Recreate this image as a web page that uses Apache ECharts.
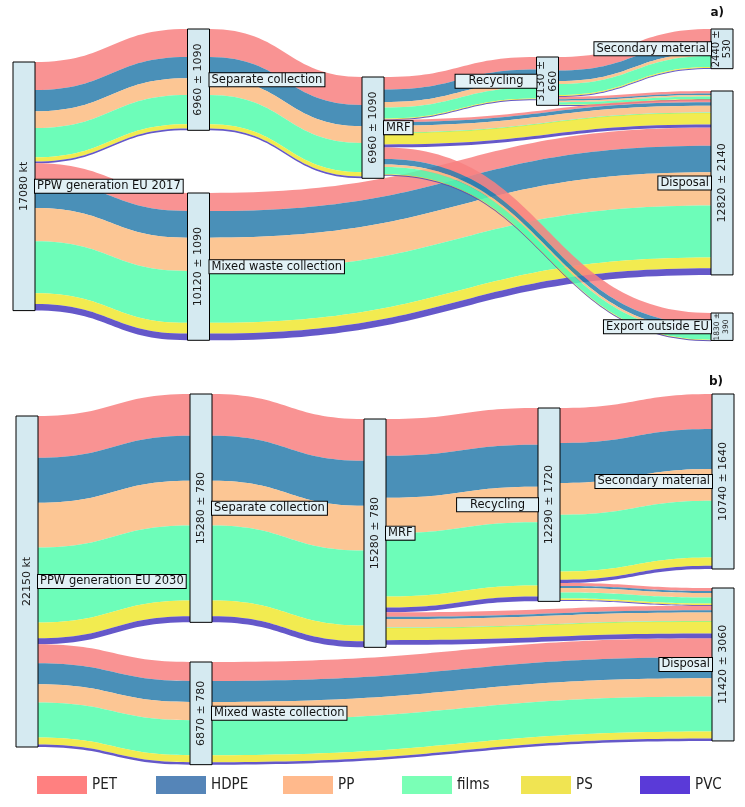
<!DOCTYPE html>
<html><head><meta charset="utf-8">
<script src="https://cdn.jsdelivr.net/npm/echarts@6/dist/echarts.min.js"></script>
<style>html,body{margin:0;padding:0;background:#fff}#c{width:745px;height:807px}</style>
</head><body><div id="c"></div>
<script>
// ---------- data ----------
const polymers = ['PET', 'HDPE', 'PP', 'films', 'PS', 'PVC'];

// Panel a) 2017
const nodesA = ['PPW generation EU 2017', 'Separate collection', 'Mixed waste collection', 'MRF', 'Recycling', 'Secondary material', 'Disposal', 'Export outside EU'];
const nodeTextA = ['PPW generation EU 2017', 'Separate collection', 'Mixed waste collection', 'MRF', '   Recycling   ', 'Secondary material', 'Disposal', 'Export outside EU'];
const nodeValueA = ['17080 kt', '6960 ± 1090', '10120 ± 1090', '6960 ± 1090', '3130 ±\n660', '2440 ±\n530', '12820 ± 2140', '1830 ±\n390'];
const flowsA = [[0, 1], [0, 2], [1, 3], [2, 6], [3, 4], [4, 5], [4, 6], [3, 6], [3, 7]];
// kt per polymer: PET, HDPE, PP, films, PS, PVC
const PET_A   = [1930, 1240, 1930, 1240, 865, 925, 170, 170, 790];
const HDPE_A  = [1450, 1830, 1450, 1830, 850, 720, 105, 240, 375];
const PP_A    = [1160, 2290, 1160, 2290, 385, 205, 105, 480, 170];
const FILMS_A = [2000, 3560, 2000, 3560, 755, 755, 170, 35, 495];
const PS_A    = [300, 740, 300, 740, 50, 70, 30, 790, 35];
const PVC_A   = [120, 460, 120, 460, 20, 50, 15, 205, 20];

// Panel b) 2030
const nodesB = ['PPW generation EU 2030', 'Separate collection', 'Mixed waste collection', 'MRF', 'Recycling', 'Secondary material', 'Disposal'];
const nodeTextB = ['PPW generation EU 2030', 'Separate collection', 'Mixed waste collection', 'MRF', '   Recycling   ', 'Secondary material', 'Disposal'];
const nodeValueB = ['22150 kt', '15280 ± 780', '6870 ± 780', '15280 ± 780', '12290 ± 1720', '10740 ± 1640', '11420 ± 3060'];
const flowsB = [[0, 1], [0, 2], [1, 3], [2, 6], [3, 4], [4, 5], [4, 6], [3, 6]];
const PET_B   = [2800, 1270, 2800, 1270, 2460, 2340, 200, 300];
const HDPE_B  = [3000, 1400, 3000, 1400, 2810, 2680, 135, 150];
const PP_B    = [3000, 1230, 3000, 1230, 2380, 2120, 300, 570];
const FILMS_B = [5020, 2340, 5020, 2340, 4220, 3795, 400, 25];
const PS_B    = [1060, 465, 1060, 465, 740, 555, 100, 815];
const PVC_B   = [400, 165, 400, 165, 330, 220, 55, 315];

// ---------- layout & style ----------
const linkColors = ['#f88080', '#2a7cab', '#fbbc81', '#53fdad', '#f0e831', '#4a3bbf'];
const legendColors = ['#ff8080', '#5585b8', '#ffb98c', '#7affb6', '#f0e452', '#5a3ad8'];
const legendLeft = [37, 156, 283, 402, 521, 640];
const FONT = 'DejaVu Sans';

const layoutA = { left: 13, top: 29, width: 720, height: 311, gap: 30,
  depth: [0, 1, 1, 2, 3, 4, 4, 4], nodeTop: [33, 0, 164, 48, 28, 0, 62, 284],
  valueFont: [11, 11, 11, 11, 11, 10, 11, 7.5], valueLine: [13, 13, 13, 13, 12, 11, 13, 9] };
const layoutB = { left: 16, top: 394, width: 718, height: 370, gap: 39,
  depth: [0, 1, 1, 2, 3, 4, 4], nodeTop: [22, 0, 268, 25, 14, 0, 194],
  valueFont: [11, 11, 11, 11, 11, 11, 11], valueLine: [13, 13, 13, 13, 13, 13, 13] };

function buildLinks(nodes, flows, cols, hidden) {
  const links = [];
  flows.forEach((f, fi) => {
    cols.forEach((arr, pi) => {
      links.push({
        source: nodes[f[0]], target: nodes[f[1]], value: arr[fi],
        lineStyle: { color: linkColors[pi], opacity: hidden ? 0 : 0.85 }
      });
    });
  });
  return links;
}

function buildSeries(nodes, texts, values, flows, cols, L, withNames) {
  const data = nodes.map((n, i) => {
    const item = { name: n, depth: L.depth[i], localY: L.nodeTop[i] / L.height };
    if (withNames) {
      item.itemStyle = { color: 'rgba(0,0,0,0)', borderWidth: 0 };
      item.label = {
        show: true, position: L.depth[i] >= 3 ? 'left' : 'right', distance: 0,
        formatter: () => texts[i]
      };
    } else {
      item.label = {
        show: true, position: 'inside', rotate: 90,
        fontSize: L.valueFont[i], lineHeight: L.valueLine[i],
        formatter: () => values[i]
      };
    }
    return item;
  });
  return {
    type: 'sankey',
    left: L.left, top: L.top, width: L.width, height: L.height,
    nodeWidth: 22, nodeGap: L.gap, layoutIterations: 0, draggable: false,
    silent: true, emphasis: { disabled: true },
    data: data,
    links: buildLinks(nodes, flows, cols, withNames),
    itemStyle: withNames ? { color: 'rgba(0,0,0,0)', borderWidth: 0 }
      : { color: '#d5eaf1', borderColor: '#000', borderWidth: 1 },
    lineStyle: { curveness: 0.5 },
    label: withNames ? {
      fontFamily: FONT, fontSize: 11.5, color: '#111',
      backgroundColor: '#e2f1f6', borderColor: '#000', borderWidth: 1,
      padding: [1, 2, 0, 2]
    } : { fontFamily: FONT, fontSize: 11, color: '#1a1a1a' }
  };
}

const colsA = [PET_A, HDPE_A, PP_A, FILMS_A, PS_A, PVC_A];
const colsB = [PET_B, HDPE_B, PP_B, FILMS_B, PS_B, PVC_B];

const legends = polymers.map((p, i) => ({
  data: [p], left: legendLeft[i], top: 776, padding: 0,
  itemWidth: 50, itemHeight: 18, icon: 'rect', selectedMode: false,
  textStyle: { fontFamily: 'DejaVu Sans Condensed', fontSize: 15, color: '#222' }
}));

const option = {
  backgroundColor: '#fff',
  animation: false,
  title: [
    { text: 'a)', right: 21, top: 7, padding: 0, textStyle: { fontFamily: FONT, fontSize: 12, fontWeight: 'bold', color: '#111' } },
    { text: 'b)', right: 22, top: 376, padding: 0, textStyle: { fontFamily: FONT, fontSize: 12, fontWeight: 'bold', color: '#111' } }
  ],
  legend: legends,
  series: [
    buildSeries(nodesA, nodeTextA, nodeValueA, flowsA, colsA, layoutA, false),
    buildSeries(nodesA, nodeTextA, nodeValueA, flowsA, colsA, layoutA, true),
    buildSeries(nodesB, nodeTextB, nodeValueB, flowsB, colsB, layoutB, false),
    buildSeries(nodesB, nodeTextB, nodeValueB, flowsB, colsB, layoutB, true),
    {
      type: 'pie', radius: [0, 0], center: [-50, -50], silent: true, label: { show: false },
      data: polymers.map((p, i) => ({ name: p, value: 1, itemStyle: { color: legendColors[i] } }))
    }
  ]
};

const chart = echarts.init(document.getElementById('c'), null, { renderer: 'canvas' });
chart.setOption(option);
</script></body></html>
